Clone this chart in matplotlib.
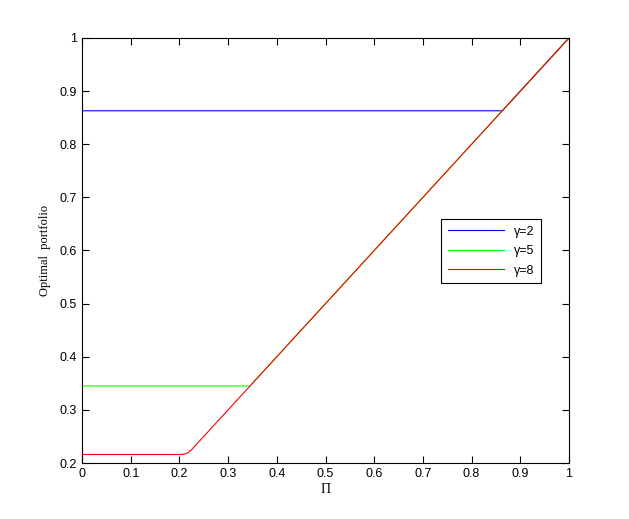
import matplotlib.pyplot as plt

# optimal portfolio vs Pi for three gammas
gammas = [2, 5, 8]
x_blue = [0.0, 0.863, 1.0]
y_blue = [0.863, 0.863, 1.0]
x_green = [0.0, 0.345, 1.0]
y_green = [0.345, 0.345, 1.0]
x_red = [0.0, 0.205, 0.211, 0.217, 0.224, 1.0]
y_red = [0.216, 0.216, 0.217, 0.219, 0.224, 1.0]

plt.rcParams['font.family'] = ['Liberation Sans', 'DejaVu Sans']
fig = plt.figure(figsize=(6.29, 5.19), dpi=100)
ax = fig.add_axes([82/629, 1 - 463/519, 487/629, 425/519])

ax.plot(x_blue, y_blue, color='#0000ff', lw=0.8, label='γ=%d' % gammas[0])
ax.plot(x_green, y_green, color='#00ff00', lw=0.8, label='γ=%d' % gammas[1])
ax.plot(x_red, y_red, color='#ff0000', lw=0.8, label='γ=%d' % gammas[2])

ax.set_xlim(0, 1)
ax.set_ylim(0.2, 1)
ax.set_xticks([i / 10 for i in range(11)])
ax.set_xticklabels(['0', '0.1', '0.2', '0.3', '0.4', '0.5', '0.6', '0.7', '0.8', '0.9', '1'])
ax.set_yticks([0.2 + i / 10 for i in range(9)])
ax.set_yticklabels(['0.2', '0.3', '0.4', '0.5', '0.6', '0.7', '0.8', '0.9', '1'])
ax.tick_params(direction='in', top=True, right=True, labelsize=9, length=5, width=0.8)
for s in ax.spines.values():
    s.set_linewidth(0.8)

ax.set_xlabel('Π', family='Liberation Serif', fontsize=10, labelpad=2)
ax.set_ylabel('Optimal  portfolio', family='Liberation Serif', fontsize=9, labelpad=6)

leg = ax.legend(loc='upper left', bbox_to_anchor=(0.725, 0.588), fontsize=9,
                frameon=True, fancybox=False, edgecolor='black', framealpha=1,
                handlelength=4.5, borderpad=0.5, labelspacing=0.6)
leg.get_frame().set_linewidth(0.8)

fig.savefig('out.png', dpi=100)
